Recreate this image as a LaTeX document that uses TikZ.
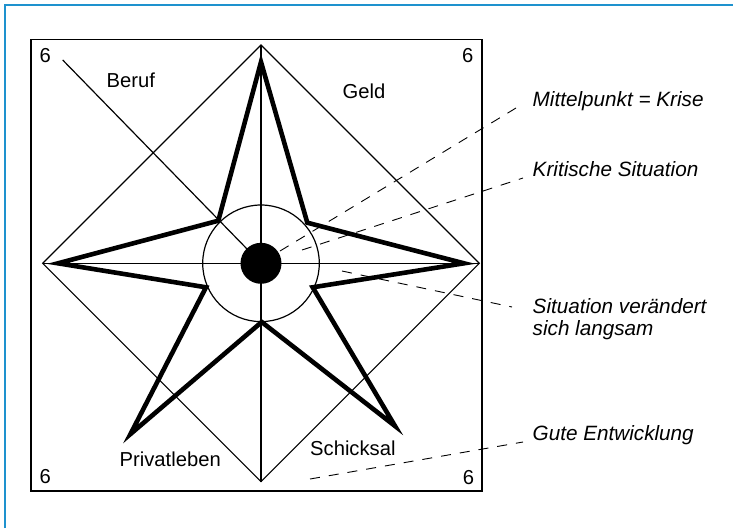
\documentclass[tikz,border=0pt]{standalone}
\usepackage{fontspec}
\setmainfont{Liberation Sans}
\definecolor{framecyan}{RGB}{30,146,206}
\begin{document}
\begin{tikzpicture}[x=1pt,y=-1pt,
  thinline/.style={line width=1.2pt},
  starline/.style={line width=4.6pt, line join=miter, miter limit=20},
  boxline/.style={line width=1.8pt},
  leader/.style={line width=0.9pt, dash pattern=on 10pt off 9pt},
  lbl/.style={anchor=base west, inner sep=0pt, font=\fontsize{20.2}{22}\selectfont},
  note/.style={anchor=base west, inner sep=0pt, font=\fontsize{20.7}{22}\selectfont\itshape},
]
\useasboundingbox (0,0) rectangle (733,528);

% outer frame (only top and left edges fall inside the page)
\draw[framecyan, line width=1.8pt] (4.7,528) -- (4.7,5) -- (733,5);

% inner box
\draw[boxline] (30.7,39.5) rectangle (481.7,491);

% diamond and axes
\coordinate (C)  at (261,263.3);
\coordinate (DT) at (261,45);
\coordinate (DR) at (479.3,263.3);
\coordinate (DB) at (261,481.6);
\coordinate (DL) at (42.7,263.3);
\coordinate (DG) at (62.7,60);
\draw[thinline] (DT) -- (DR) -- (DB) -- (DL) -- cycle;
\draw[thinline] (DL) -- (DR);
\draw[thinline] (DT) -- (DB);
\draw[thinline] (DG) -- (C);

% five-pointed star
\coordinate (ST)  at (261,62);
\coordinate (SUR) at (307.3,222.7);
\coordinate (SR)  at (464,263.3);
\coordinate (SLRi) at (312.7,287.3);
\coordinate (SLR) at (395,426);
\coordinate (SB)  at (261.7,322);
\coordinate (SLL) at (130.5,434);
\coordinate (SLLi) at (206,287.3);
\coordinate (SL)  at (58,263.3);
\coordinate (SUL) at (218.3,220.7);
\draw[starline] (ST) -- (SUR) -- (SR) -- (SLRi) -- (SLR) -- (SB) -- (SLL) -- (SLLi) -- (SL) -- (SUL) -- cycle;

% critical circle and centre
\draw[thinline] (C) circle[radius=58.3];
\fill (C) circle[radius=20.5];

% corner numbers and sector labels
\node[lbl] (n1) at (39.3,62.7) {6};
\node[lbl] (n2) at (462,62.7) {6};
\node[lbl] (n3) at (39.3,483.3) {6};
\node[lbl] (n4) at (462.7,484) {6};
\node[lbl] (beruf) at (106.5,87.3) {Beruf};
\node[lbl] (geld) at (342.5,98.3) {Geld};
\node[lbl] (privat) at (119.5,466.7) {Privatleben};
\node[lbl] (schicksal) at (310,455) {Schicksal};

% notes on the right
\node[note] (krise) at (532.5,106.7) {Mittelpunkt = Krise};
\node[note] (kritisch) at (532.5,176.7) {Kritische Situation};
\node[note] (langsam) at (532.5,313) {Situation verändert};
\node[note] (langsam2) at (532.5,335) {sich langsam};
\node[note] (gut) at (532.5,440.5) {Gute Entwicklung};

% dashed leaders
\coordinate (a1) at (280,251);   \coordinate (b1) at (516,108);
\coordinate (a2) at (302,250);   \coordinate (b2) at (523,178);
\coordinate (a3) at (342,271);   \coordinate (b3) at (512,307);
\coordinate (a4) at (310,479);   \coordinate (b4) at (523,442);
\draw[leader] (a1) -- (b1);
\draw[leader] (a2) -- (b2);
\draw[leader] (a3) -- (b3);
\draw[leader] (a4) -- (b4);
\end{tikzpicture}
\end{document}
